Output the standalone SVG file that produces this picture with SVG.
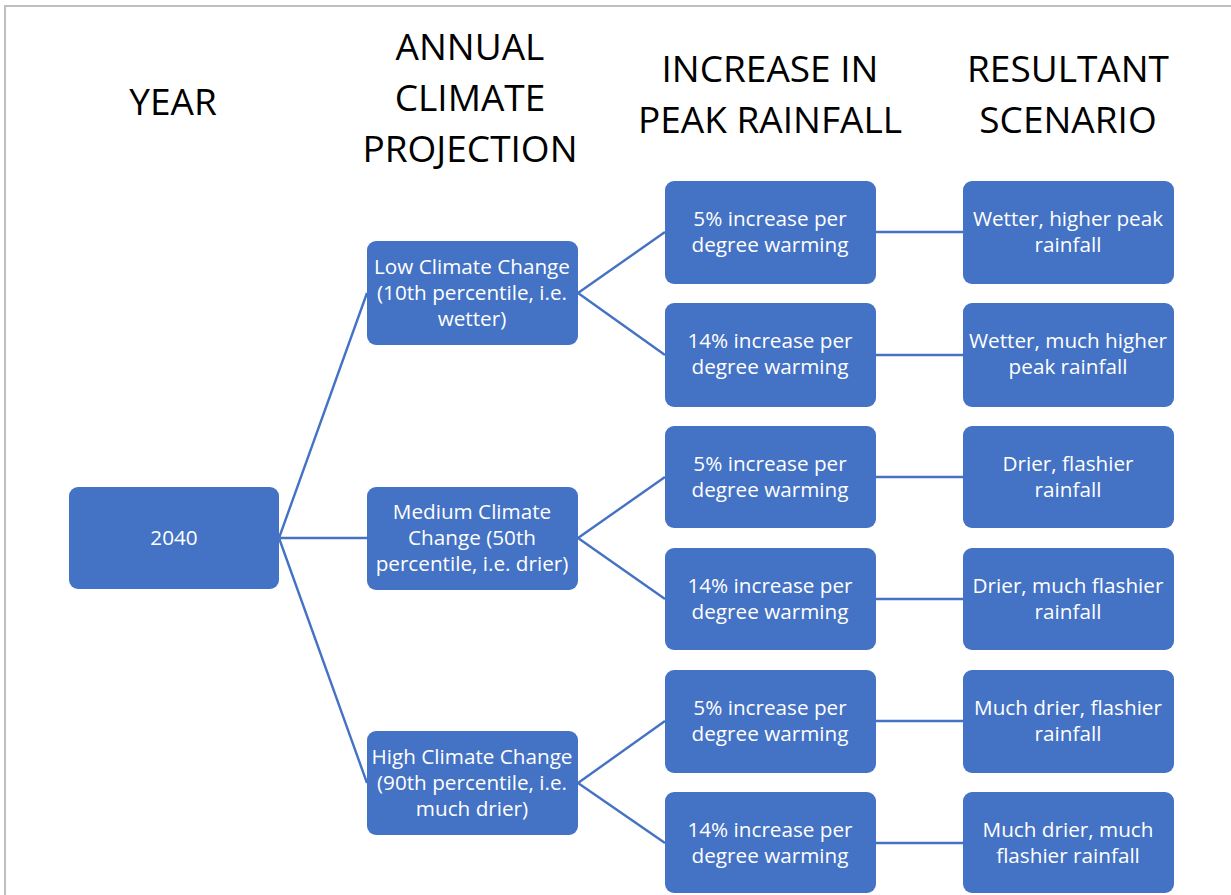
<svg xmlns="http://www.w3.org/2000/svg" width="1231" height="895" viewBox="0 0 1231 895">
<style>
.h{font-family:"Open Sans","Liberation Sans",sans-serif;font-size:37px;fill:#000;text-anchor:middle}
.t{font-family:"Open Sans","Liberation Sans",sans-serif;font-size:20.7px;fill:#fff;text-anchor:middle}
.b{fill:#4472C4}
.c{stroke:#4472C4;stroke-width:2.4;fill:none}
</style>
<rect width="1231" height="895" fill="#fff"/>
<path d="M5,895 V6 H1231" stroke="#bfbfbf" stroke-width="2" fill="none"/>
<g id="headers">
<text class="h" x="173" y="115">YEAR</text>
<text class="h" x="470" y="60">ANNUAL</text>
<text class="h" x="470" y="111">CLIMATE</text>
<text class="h" x="470" y="162">PROJECTION</text>
<text class="h" x="770" y="82">INCREASE IN</text>
<text class="h" x="770" y="133">PEAK RAINFALL</text>
<text class="h" x="1068" y="82">RESULTANT</text>
<text class="h" x="1068" y="133">SCENARIO</text>
</g>
<g id="connectors">
<path class="c" d="M279,538 L367,293 M279,538 L367,538 M279,538 L367,783"/>
<path class="c" d="M578,293 L665,232 M578,293 L665,355"/>
<path class="c" d="M578,538 L665,477 M578,538 L665,599"/>
<path class="c" d="M578,783 L665,721 M578,783 L665,843"/>
<path class="c" d="M876,232 H963 M876,355 H963 M876,477 H963 M876,599 H963 M876,721 H963 M876,843 H963"/>
</g>
<g id="n2040"><rect class="b" x="69" y="487" width="210" height="102" rx="9"/><text class="t" x="174" y="545">2040</text></g>
<g id="low"><rect class="b" x="367" y="241" width="211" height="104" rx="9"/>
<text class="t" x="472" y="274">Low Climate Change</text><text class="t" x="472" y="300">(10th percentile, i.e.</text><text class="t" x="472" y="326">wetter)</text></g>
<g id="medium"><rect class="b" x="367" y="487" width="211" height="103" rx="9"/>
<text class="t" x="472" y="519">Medium Climate</text><text class="t" x="472" y="545">Change (50th</text><text class="t" x="472" y="571">percentile, i.e. drier)</text></g>
<g id="high"><rect class="b" x="367" y="731" width="211" height="104" rx="9"/>
<text class="t" x="472" y="764">High Climate Change</text><text class="t" x="472" y="790">(90th percentile, i.e.</text><text class="t" x="472" y="816">much drier)</text></g>
<g id="r1"><rect class="b" x="665" y="181" width="211" height="103" rx="9"/><text class="t" x="770" y="226">5% increase per</text><text class="t" x="770" y="252">degree warming</text></g>
<g id="r2"><rect class="b" x="665" y="303" width="211" height="104" rx="9"/><text class="t" x="770" y="348">14% increase per</text><text class="t" x="770" y="374">degree warming</text></g>
<g id="r3"><rect class="b" x="665" y="426" width="211" height="102" rx="9"/><text class="t" x="770" y="471">5% increase per</text><text class="t" x="770" y="497">degree warming</text></g>
<g id="r4"><rect class="b" x="665" y="548" width="211" height="102" rx="9"/><text class="t" x="770" y="593">14% increase per</text><text class="t" x="770" y="619">degree warming</text></g>
<g id="r5"><rect class="b" x="665" y="670" width="211" height="103" rx="9"/><text class="t" x="770" y="715">5% increase per</text><text class="t" x="770" y="741">degree warming</text></g>
<g id="r6"><rect class="b" x="665" y="792" width="211" height="101" rx="9"/><text class="t" x="770" y="837">14% increase per</text><text class="t" x="770" y="863">degree warming</text></g>
<g id="s1"><rect class="b" x="963" y="181" width="211" height="103" rx="9"/><text class="t" x="1068" y="226">Wetter, higher peak</text><text class="t" x="1068" y="252">rainfall</text></g>
<g id="s2"><rect class="b" x="963" y="303" width="211" height="104" rx="9"/><text class="t" x="1068" y="348">Wetter, much higher</text><text class="t" x="1068" y="374">peak rainfall</text></g>
<g id="s3"><rect class="b" x="963" y="426" width="211" height="102" rx="9"/><text class="t" x="1068" y="471">Drier, flashier</text><text class="t" x="1068" y="497">rainfall</text></g>
<g id="s4"><rect class="b" x="963" y="548" width="211" height="102" rx="9"/><text class="t" x="1068" y="593">Drier, much flashier</text><text class="t" x="1068" y="619">rainfall</text></g>
<g id="s5"><rect class="b" x="963" y="670" width="211" height="103" rx="9"/><text class="t" x="1068" y="715">Much drier, flashier</text><text class="t" x="1068" y="741">rainfall</text></g>
<g id="s6"><rect class="b" x="963" y="792" width="211" height="101" rx="9"/><text class="t" x="1068" y="837">Much drier, much</text><text class="t" x="1068" y="863">flashier rainfall</text></g>
</svg>
